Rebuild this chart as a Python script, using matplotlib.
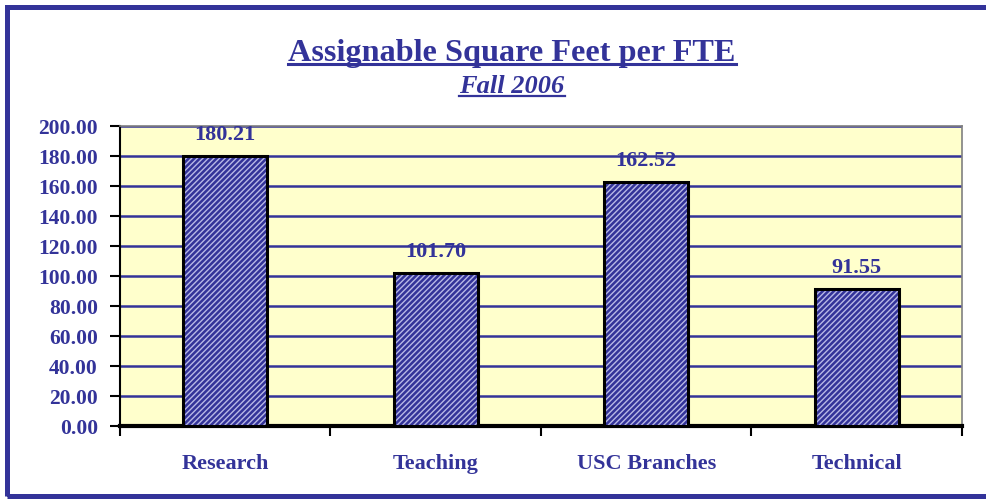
import matplotlib
matplotlib.use("Agg")
import matplotlib.pyplot as plt
from matplotlib.patches import Rectangle
from matplotlib.lines import Line2D

categories = ["Research", "Teaching", "USC Branches", "Technical"]
values = [180.21, 101.70, 162.52, 91.55]
yticks = [0, 20, 40, 60, 80, 100, 120, 140, 160, 180, 200]

NAVY = "#333399"
plt.rcParams['font.family'] = ['Liberation Serif', 'DejaVu Serif']
plt.rcParams['hatch.linewidth'] = 1.0

fig = plt.figure(figsize=(9.87, 5.0), dpi=100)
fig.patch.set_facecolor("white")
W, H = 987, 500
ax = fig.add_axes([120 / W, 1 - 426 / H, (962 - 120) / W, (426 - 126) / H])
ax.set_facecolor("#FFFFCC")

x = list(range(len(categories)))
ax.bar(x, values, width=0.4, color=NAVY, edgecolor="#B8B8E6", hatch="//////", linewidth=0, zorder=3)
ax.bar(x, values, width=0.4, facecolor="none", edgecolor="black", linewidth=2.2, zorder=4)

for xi, v in zip(x, values):
    ax.annotate(f"{v:.2f}", (xi, v), xytext=(0, 8), textcoords="offset points",
                ha="center", va="bottom", fontsize=16, fontweight="bold", color=NAVY)

ax.set_xlim(-0.5, len(categories) - 0.5)
ax.set_ylim(0, 200)
ax.set_yticks(yticks)
ax.set_yticklabels([f"{t:.2f}" for t in yticks], fontsize=15.5, fontweight="bold", color=NAVY)
ax.yaxis.grid(True, color=NAVY, linewidth=1.8, zorder=1)
ax.set_axisbelow(True)
ax.tick_params(axis="y", direction="out", length=7, width=1.5, color="black", pad=9)

ax.set_xticks(x)
ax.set_xticklabels(categories, fontsize=16, fontweight="bold", color=NAVY)
ax.tick_params(axis="x", length=0, pad=20)
ax.set_xticks([i - 0.5 for i in range(len(categories) + 1)], minor=True)
ax.tick_params(axis="x", which="minor", direction="out", length=7, width=1.5, color="black")

for s in ["top", "right"]:
    ax.spines[s].set_color("#808080")
    ax.spines[s].set_linewidth(1.2)
ax.spines["left"].set_color("black")
ax.spines["left"].set_linewidth(1.5)
ax.spines["bottom"].set_color("black")
ax.spines["bottom"].set_linewidth(3)

# outer frame
fig.add_artist(Rectangle((7.5 / W, 1 - 495.5 / H), (1100 - 7.5) / W, (495.5 - 7) / H,
                         transform=fig.transFigure, facecolor="none",
                         edgecolor=NAVY, linewidth=3.6, clip_on=False))

t1 = fig.text(512 / W, 1 - 61 / H, "Assignable Square Feet per FTE", ha="center", va="baseline",
              fontsize=23.2, fontweight="bold", color=NAVY)
t2 = fig.text(512 / W, 1 - 93 / H, "Fall 2006", ha="center", va="baseline",
              fontsize=19, fontweight="bold", style="italic", color=NAVY)

fig.canvas.draw()
r = fig.canvas.get_renderer()
for t, base, off, lw in [(t1, 61, 2.5, 2.2), (t2, 93, 2.5, 1.6)]:
    bb = t.get_window_extent(renderer=r)
    y = 1 - (base + off) / H
    fig.add_artist(Line2D([bb.x0 / W, bb.x1 / W], [y, y], transform=fig.transFigure,
                          color=NAVY, linewidth=lw))

fig.savefig("out.png", dpi=100)
